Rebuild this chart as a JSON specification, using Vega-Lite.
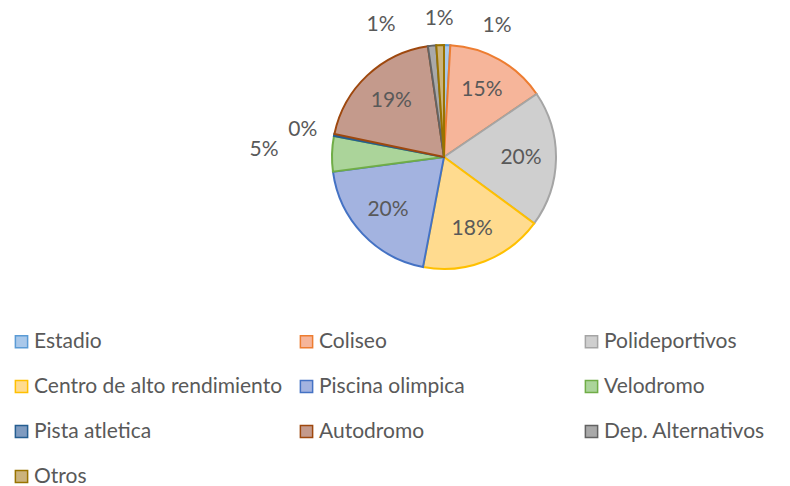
{
  "$schema": "https://vega.github.io/schema/vega-lite/v6.json",
  "autosize": "none",
  "width": 224,
  "height": 224,
  "padding": {"left": 332, "top": 45, "right": 234, "bottom": 217},
  "background": "white",
  "config": {"view": {"stroke": null}, "font": "Lato"},
  "data": {"values": [
    {"i": 1, "cat": "Estadio", "v": 0.009},
    {"i": 2, "cat": "Coliseo", "v": 0.146},
    {"i": 3, "cat": "Polideportivos", "v": 0.196},
    {"i": 4, "cat": "Centro de alto rendimiento", "v": 0.179},
    {"i": 5, "cat": "Piscina olimpica", "v": 0.199},
    {"i": 6, "cat": "Velodromo", "v": 0.051},
    {"i": 7, "cat": "Pista atletica", "v": 0.003},
    {"i": 8, "cat": "Autodromo", "v": 0.194},
    {"i": 9, "cat": "Dep. Alternativos", "v": 0.012},
    {"i": 10, "cat": "Otros", "v": 0.011}
  ]},
  "encoding": {
    "theta": {"field": "v", "type": "quantitative", "stack": true},
    "order": {"field": "i", "type": "quantitative"}
  },
  "layer": [
    {
      "mark": {"type": "arc", "outerRadius": 112, "strokeWidth": 2},
      "encoding": {
        "fill": {
          "field": "cat", "type": "nominal", "sort": null,
          "scale": {
            "domain": ["Estadio", "Coliseo", "Polideportivos", "Centro de alto rendimiento", "Piscina olimpica", "Velodromo", "Pista atletica", "Autodromo", "Dep. Alternativos", "Otros"],
            "range": ["#A9C8EA", "#F6B59A", "#CFCFCF", "#FFDB8F", "#A3B3E0", "#ABD49A", "#7F9BC0", "#C49A8C", "#A9A9A9", "#CBB37D"]
          },
          "legend": {
            "title": null, "orient": "none", "legendX": -321, "legendY": 286, "padding": 0,
            "direction": "horizontal",
            "columns": 3, "gridAlign": "all", "columnPadding": 13, "rowPadding": 23,
            "symbolType": "square", "symbolSize": 150, "symbolStrokeWidth": 1.5,
            "labelFont": "Lato", "labelFontSize": 21, "labelColor": "#595959",
            "labelOffset": 2, "labelLimit": 400
          }
        },
        "stroke": {
          "field": "cat", "type": "nominal", "sort": null,
          "scale": {
            "domain": ["Estadio", "Coliseo", "Polideportivos", "Centro de alto rendimiento", "Piscina olimpica", "Velodromo", "Pista atletica", "Autodromo", "Dep. Alternativos", "Otros"],
            "range": ["#5B9BD5", "#ED7D31", "#A5A5A5", "#FFC000", "#4472C4", "#70AD47", "#255E91", "#9E480E", "#636363", "#997300"]
          },
          "legend": {
            "title": null, "orient": "none", "legendX": -321, "legendY": 286, "padding": 0,
            "direction": "horizontal",
            "columns": 3, "gridAlign": "all", "columnPadding": 13, "rowPadding": 23,
            "symbolType": "square", "symbolSize": 150, "symbolStrokeWidth": 1.5,
            "labelFont": "Lato", "labelFontSize": 21, "labelColor": "#595959",
            "labelOffset": 2, "labelLimit": 400
          }
        }
      }
    },
    {
      "mark": {"type": "text", "radius": 77, "font": "Lato", "fontSize": 21, "fill": "#595959"},
      "encoding": {
        "detail": {"field": "cat", "type": "nominal"},
        "text": {"condition": {"test": "datum.v < 0.1", "value": ""}, "field": "v", "type": "quantitative", "format": ".0%"}
      }
    },
    {
      "mark": {"type": "text", "radius": 140, "dx": 49, "dy": 9, "font": "Lato", "fontSize": 21, "fill": "#595959"},
      "encoding": {
        "detail": {"field": "cat", "type": "nominal"},
        "text": {"condition": {"test": "datum.cat !== 'Estadio'", "value": ""}, "field": "v", "type": "quantitative", "format": ".0%"}
      }
    },
    {
      "mark": {"type": "text", "radius": 140, "dx": 0, "dy": 2, "font": "Lato", "fontSize": 21, "fill": "#595959"},
      "encoding": {
        "detail": {"field": "cat", "type": "nominal"},
        "text": {"condition": {"test": "datum.cat !== 'Otros'", "value": ""}, "field": "v", "type": "quantitative", "format": ".0%"}
      }
    },
    {
      "mark": {"type": "text", "radius": 140, "dx": -48, "dy": 7, "font": "Lato", "fontSize": 21, "fill": "#595959"},
      "encoding": {
        "detail": {"field": "cat", "type": "nominal"},
        "text": {"condition": {"test": "datum.cat !== 'Dep. Alternativos'", "value": ""}, "field": "v", "type": "quantitative", "format": ".0%"}
      }
    },
    {
      "mark": {"type": "text", "radius": 140, "dx": -4, "dy": 1, "font": "Lato", "fontSize": 21, "fill": "#595959"},
      "encoding": {
        "detail": {"field": "cat", "type": "nominal"},
        "text": {"condition": {"test": "datum.cat !== 'Pista atletica'", "value": ""}, "field": "v", "type": "quantitative", "format": ".0%"}
      }
    },
    {
      "mark": {"type": "text", "radius": 180, "dx": 0, "dy": -2, "font": "Lato", "fontSize": 21, "fill": "#595959"},
      "encoding": {
        "detail": {"field": "cat", "type": "nominal"},
        "text": {"condition": {"test": "datum.cat !== 'Velodromo'", "value": ""}, "field": "v", "type": "quantitative", "format": ".0%"}
      }
    }
  ]
}
